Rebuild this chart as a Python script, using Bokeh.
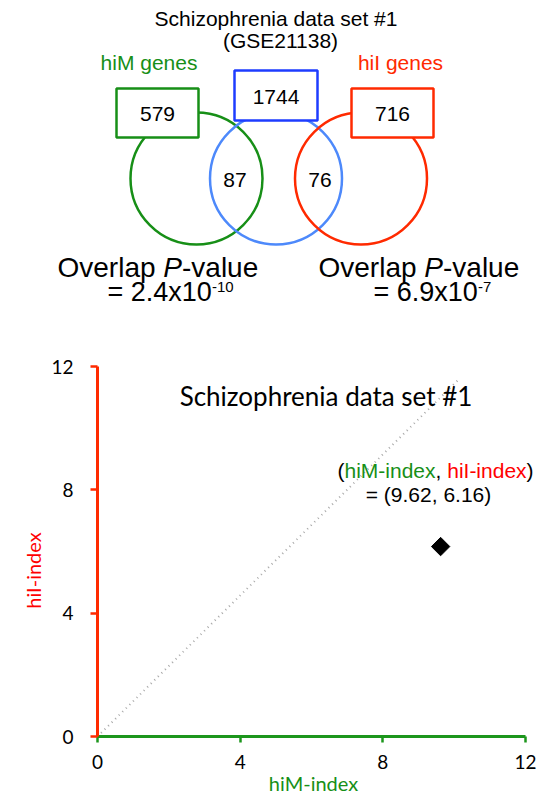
import numpy as np
from bokeh.plotting import figure
from bokeh.models import Range1d, FixedTicker
from bokeh.layouts import column
from bokeh.embed import file_html
from bokeh.resources import INLINE
from bokeh.core.properties import value

# ---------------- data ----------------
venn_title = ["Schizophrenia data set #1", "(GSE21138)"]
set_names = ["hiM genes", "hiI genes"]
only_counts = [579, 1744, 716]          # hiM genes, GSE21138 genes, hiI genes
overlap_counts = [87, 76]               # hiM∩data set, hiI∩data set
p_mantissa = ["2.4", "6.9"]
p_exponent = ["-10", "-7"]

him_index = [9.62]
hii_index = [6.16]
axis_ticks = [0, 4, 8, 12]
ref_x = [0, 10.1]
ref_y = [0, 11.55]

# ---------------- styles ----------------
GREEN = "#178f17"
BLUE_C = "#4d89fb"
BLUE_B = "#1e3cff"
RED = "#ff2a00"
HELV = "Liberation Sans"
CAL = "Lato"

# ---------------- venn schematic (pixel layout) ----------------
circle_x = [196, 275.5, 360.5]
circle_y = [178, 178, 178]
circle_r = 66
circle_colors = [GREEN, BLUE_C, RED]
box_x = [157, 275.5, 392]
box_y = [112.5, 95, 112.5]
box_w = [82, 83, 82]
box_h = [49, 50, 49]
box_colors = [GREEN, BLUE_B, RED]
overlap_x = [234.5, 319.5]

top = figure(width=545, height=340, x_range=Range1d(0, 545), y_range=Range1d(340, 0),
             output_backend="svg", toolbar_location=None, min_border=0,
             x_axis_location=None, y_axis_location=None)
top.grid.visible = False
top.outline_line_color = None

top.circle(x=circle_x, y=circle_y, radius=circle_r, fill_color=None,
           line_color=circle_colors, line_width=2.5)
top.rect(x=box_x, y=box_y, width=box_w, height=box_h, fill_color="white",
         line_color=box_colors, line_width=2.5)

common = dict(text_font=value(HELV), text_align="center", text_baseline="middle")
top.text(x=box_x, y=[113, 96, 113], text=[str(c) for c in only_counts],
         text_font_size="21px", text_color="black", **common)
top.text(x=overlap_x, y=[179, 179], text=[str(c) for c in overlap_counts],
         text_font_size="21px", text_color="black", **common)
top.text(x=[275.5, 280], y=[18, 40], text=venn_title, text_font_size="21px",
         text_color="black", **common)
top.text(x=[148.5, 400], y=[62, 62], text=set_names, text_font_size="21px",
         text_color=[GREEN, RED], **common)

# Overlap P-value blocks
for x0, x2, man, ex in zip([57, 318], [107, 373], p_mantissa, p_exponent):
    top.text(x=[x0, x0 + 105.8, x0 + 124.5], y=[266.5] * 3,
             text=["Overlap", "P", "-value"],
             text_font_style=["normal", "italic", "normal"],
             text_font=value(HELV), text_font_size="28px", text_color="black",
             text_align="left", text_baseline="middle")
    main = "= " + man + "x10"
    top.text(x=[x2], y=[291], text=[main], text_font=value(HELV),
             text_font_size="27px", text_color="black",
             text_align="left", text_baseline="middle")
    top.text(x=[x2 + 104.5], y=[286], text=[ex], text_font=value(HELV),
             text_font_size="15px", text_color="black",
             text_align="left", text_baseline="middle")

# ---------------- scatter ----------------
# pixel geometry of the data frame inside this 545x457 panel
FX0, FX1 = 97, 525        # x = 0 .. 12
FY0, FY1 = 396, 26        # y = 0 .. 12 (from the panel top)
SX = (FX1 - FX0) / 12.0
SY = (FY0 - FY1) / 12.0
H = 457


def dx(px):
    return (px - FX0) / SX


def dy(py):
    return (FY0 - py) / SY


bot = figure(width=545, height=H, x_range=Range1d(dx(0), dx(545)),
             y_range=Range1d(dy(H), dy(0)),
             output_backend="svg", toolbar_location=None, min_border=0)
bot.grid.visible = False
bot.outline_line_color = None

for ax, col in ((bot.xaxis[0], "#1c961c"), (bot.yaxis[0], RED)):
    ax.fixed_location = 0
    ax.bounds = (0, 12)
    ax.ticker = FixedTicker(ticks=axis_ticks)
    ax.axis_line_color = col
    ax.axis_line_width = 3
    ax.major_tick_line_color = col
    ax.major_tick_line_width = 2.5
    ax.major_tick_in = 0
    ax.minor_tick_line_color = None
    ax.major_label_text_font = CAL
    ax.major_label_text_font_size = "19px"
    ax.major_label_text_color = "black"

bot.xaxis.major_tick_out = 6
bot.xaxis.major_label_standoff = 12
bot.yaxis.major_tick_out = 7
bot.yaxis.major_label_standoff = 17

# axis titles
bot.text(x=[dx(313)], y=[dy(782 - 340)], text=["hiM-index"], text_color=GREEN,
         text_font=value(CAL), text_font_size="20px", text_align="center",
         text_baseline="middle")
bot.text(x=[dx(32)], y=[dy(570 - 340)], text=["hiI-index"], angle=np.pi / 2,
         text_color="#ff0000", text_font=value(CAL), text_font_size="20px",
         text_align="center", text_baseline="middle")

bot.line(ref_x, ref_y, line_dash="1 4", line_color="#a8a8a8", line_width=2)
bot.scatter(him_index, hii_index, marker="square", angle=np.pi / 4, size=13,
            color="black")

bot.text(x=[dx(325.5)], y=[dy(395 - 340)], text=["Schizophrenia data set #1"],
         text_font=value(CAL), text_font_size="26px", text_color="black",
         text_align="center", text_baseline="middle")

bot.text(x=[dx(337)] * 5, y=[dy(470 - 340)] * 5,
         text=["(", "hiM-index", ",", "hiI-index", ")"],
         x_offset=[0, 7.0, 98.0, 109.7, 189.1],
         text_color=["black", GREEN, "black", "#ff0000", "black"],
         text_font=value(HELV), text_font_size="21px",
         text_align="left", text_baseline="middle")
bot.text(x=[dx(428)], y=[dy(494 - 340)],
         text=["= (%.2f, %.2f)" % (him_index[0], hii_index[0])],
         text_color="black", text_font=value(HELV), text_font_size="21px",
         text_align="center", text_baseline="middle")

layout = column(top, bot, spacing=0)
open("out.html", "w").write(file_html(layout, INLINE))
